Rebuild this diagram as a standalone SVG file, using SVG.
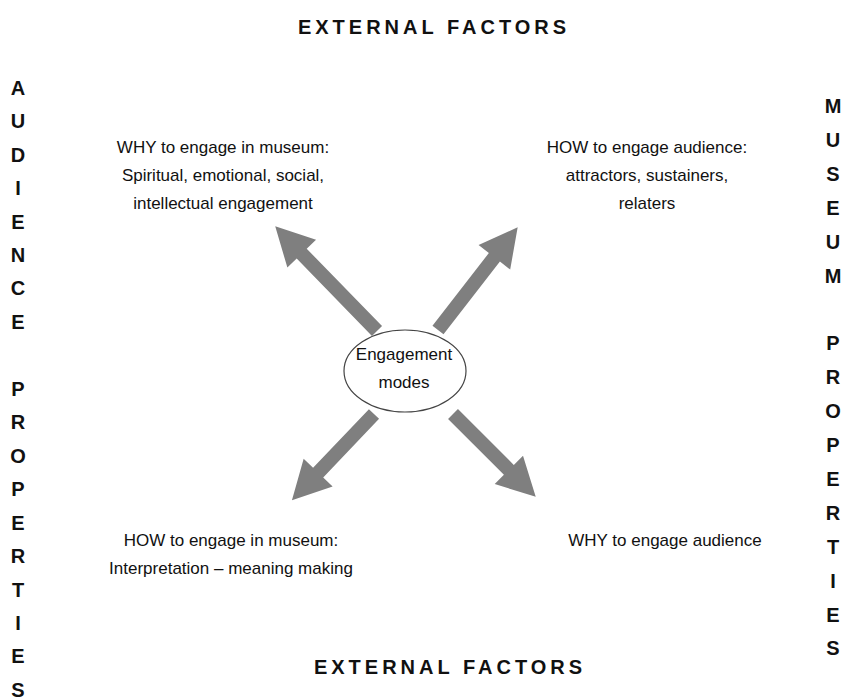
<svg xmlns="http://www.w3.org/2000/svg" width="847" height="699" viewBox="0 0 847 699">
<style>
.lbl{font-family:"Liberation Sans",Arial,sans-serif;font-size:17px;fill:#111;text-anchor:middle}
.ttl{font-family:"Liberation Sans",Arial,sans-serif;font-size:20px;font-weight:bold;fill:#111;letter-spacing:4px;text-anchor:middle}
.vert{font-family:"Liberation Sans",Arial,sans-serif;font-size:20px;font-weight:bold;fill:#111;text-anchor:middle}
.arr{fill:#7f7f7f}
</style>
<rect width="847" height="699" fill="#fff"/>
<g id="title-top"><text class="ttl" x="434" y="34">EXTERNAL FACTORS</text></g>
<g id="title-bottom"><text class="ttl" x="450" y="674">EXTERNAL FACTORS</text></g>
<g id="audience-properties">
<text class="vert"><tspan x="18" y="95">A</tspan><tspan x="18" y="128">U</tspan><tspan x="18" y="162">D</tspan><tspan x="18" y="195">I</tspan><tspan x="18" y="229">E</tspan><tspan x="18" y="262">N</tspan><tspan x="18" y="295">C</tspan><tspan x="18" y="329">E</tspan><tspan x="18" y="396">P</tspan><tspan x="18" y="429">R</tspan><tspan x="18" y="463">O</tspan><tspan x="18" y="496">P</tspan><tspan x="18" y="530">E</tspan><tspan x="18" y="563">R</tspan><tspan x="18" y="597">T</tspan><tspan x="18" y="630">I</tspan><tspan x="18" y="663">E</tspan><tspan x="18" y="697">S</tspan></text>
</g>
<g id="museum-properties">
<text class="vert"><tspan x="833" y="113">M</tspan><tspan x="833" y="147">U</tspan><tspan x="833" y="181">S</tspan><tspan x="833" y="215">E</tspan><tspan x="833" y="249">U</tspan><tspan x="833" y="283">M</tspan><tspan x="833" y="350">P</tspan><tspan x="833" y="384">R</tspan><tspan x="833" y="418">O</tspan><tspan x="833" y="452">P</tspan><tspan x="833" y="486">E</tspan><tspan x="833" y="520">R</tspan><tspan x="833" y="554">T</tspan><tspan x="833" y="588">I</tspan><tspan x="833" y="622">E</tspan><tspan x="833" y="655">S</tspan></text>
</g>
<g id="connectors">
<path class="arr" transform="translate(377,331) rotate(-134.2)" d="M0,-7 L108,-7 L108,-20 L146,0 L108,20 L108,7 L0,7 Z"/>
<path class="arr" transform="translate(438,330) rotate(-52.2)" d="M0,-7 L92,-7 L92,-20 L130,0 L92,20 L92,7 L0,7 Z"/>
<path class="arr" transform="translate(374,414) rotate(133.6)" d="M0,-7 L81,-7 L81,-20 L119,0 L81,20 L81,7 L0,7 Z"/>
<path class="arr" transform="translate(453,414) rotate(45)" d="M0,-7 L79,-7 L79,-20 L117,0 L79,20 L79,7 L0,7 Z"/>
</g>
<g id="center">
<ellipse cx="405" cy="371" rx="61" ry="41" fill="#fff" stroke="#444" stroke-width="1.2"/>
<text class="lbl"><tspan x="404" y="360">Engagement</tspan><tspan x="404" y="388">modes</tspan></text>
</g>
<g id="why-museum">
<text class="lbl"><tspan x="223" y="153">WHY to engage in museum:</tspan><tspan x="223" y="181">Spiritual, emotional, social,</tspan><tspan x="223" y="209">intellectual engagement</tspan></text>
</g>
<g id="how-audience">
<text class="lbl"><tspan x="647" y="153">HOW to engage audience:</tspan><tspan x="647" y="181">attractors, sustainers,</tspan><tspan x="647" y="209">relaters</tspan></text>
</g>
<g id="how-museum">
<text class="lbl"><tspan x="231" y="546">HOW to engage in museum:</tspan><tspan x="231" y="574">Interpretation – meaning making</tspan></text>
</g>
<g id="why-audience">
<text class="lbl"><tspan x="665" y="546">WHY to engage audience</tspan></text>
</g>
</svg>
